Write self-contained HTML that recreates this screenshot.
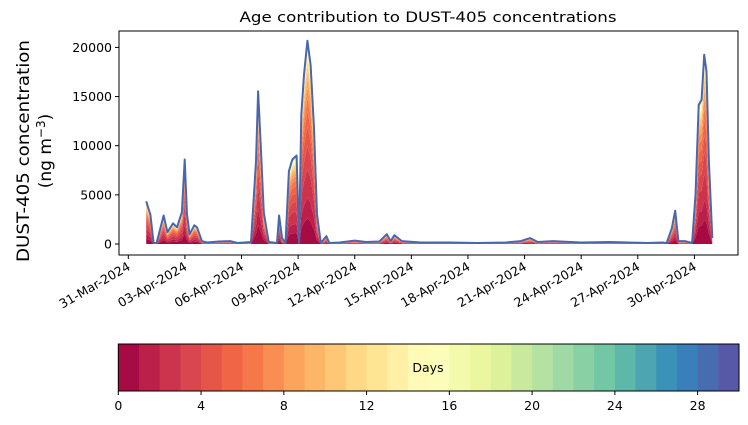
<!DOCTYPE html>
<html><head><meta charset="utf-8"><style>
body{margin:0;background:#fff;}
svg{display:block;font-family:"DejaVu Sans","Liberation Sans",sans-serif;}
</style></head><body>
<svg id="chart" width="748" height="425" viewBox="0 0 748 425" xmlns="http://www.w3.org/2000/svg">
<rect width="748" height="425" fill="#fff"/>
<text x="428" y="22" font-size="14" text-anchor="middle" fill="#000" textLength="377" lengthAdjust="spacingAndGlyphs">Age contribution to DUST-405 concentrations</text>
<g font-size="17" fill="#000" text-anchor="middle">
<text transform="translate(29,151) rotate(-90)" textLength="222" lengthAdjust="spacingAndGlyphs">DUST-405 concentration</text>
<text transform="translate(51,151) rotate(-90)">(ng m<tspan dy="-6" font-size="12">−3</tspan><tspan dy="6">)</tspan></text>
</g>
<g id="plot"></g>
<g id="cbar"></g>
</svg>
<script>
// day offsets from 31-Mar-2024 00:00
const days = [0.95,1.17,1.34,1.5,1.87,2.08,2.37,2.58,2.84,2.99,3.11,3.25,3.5,3.64,3.9,4.17,4.8,5.4,5.8,6.5,6.77,6.88,7.0,7.18,7.44,7.88,7.99,8.15,8.33,8.51,8.69,8.92,9.05,9.17,9.31,9.49,9.66,9.84,10.0,10.2,10.5,10.65,11.2,12.0,12.6,13.3,13.7,13.9,14.1,14.5,15.5,17,18.5,20,20.8,21.3,21.7,22.5,24,25.5,26.5,27.5,28.3,28.53,28.8,28.98,29.15,29.5,29.88,30.06,30.23,30.38,30.52,30.64,30.77,30.95];
const totals = [4340,2980,100,100,2900,1200,2100,1700,3250,8600,3000,1000,1900,1700,300,150,250,300,100,200,8400,15530,10780,3200,200,100,2900,600,100,7400,8600,9000,100,13150,17200,20680,18230,11800,3000,100,800,100,150,350,200,250,1000,300,900,300,150,150,100,150,300,600,200,300,150,200,150,100,150,100,1600,3390,300,300,100,5000,14170,14680,19260,17560,8400,600];
const yTicks = [0,5000,10000,15000,20000];
const xTickLabels = ["31-Mar-2024","03-Apr-2024","06-Apr-2024","09-Apr-2024","12-Apr-2024","15-Apr-2024","18-Apr-2024","21-Apr-2024","24-Apr-2024","27-Apr-2024","30-Apr-2024"];
const xTickDays = [0,3,6,9,12,15,18,21,24,27,30];
const cbarTicks = [0,4,8,12,16,20,24,28];

const NS="http://www.w3.org/2000/svg";
const L=119,R=738,T=31,B=255;
const xs=d=>128.3+d*18.87;
const ys=v=>244-v*0.00983;
function mk(t,a,p){const e=document.createElementNS(NS,t);for(const k in a)e.setAttribute(k,a[k]);p.appendChild(e);return e;}
const stops=[[0,[158,1,66]],[.1,[213,62,79]],[.2,[244,109,67]],[.3,[253,174,97]],[.4,[254,224,139]],[.5,[255,255,191]],[.6,[230,245,152]],[.7,[171,221,164]],[.8,[102,194,165]],[.9,[50,136,189]],[1,[94,79,162]]];
function spec(t){for(let i=1;i<stops.length;i++){if(t<=stops[i][0]){const a=stops[i-1],b=stops[i],f=(t-a[0])/(b[0]-a[0]);return 'rgb('+a[1].map((c,j)=>Math.round(c+(b[1][j]-c)*f)).join(',')+')';}}return 'rgb(94,79,162)';}
const plot=document.getElementById('plot');
mk('rect',{x:L,y:T,width:R-L,height:B-T,fill:'#fff'},plot);
// stacked age layers
const N=30;let w=[];for(let i=0;i<N;i++)w.push(Math.exp(-i/5)*(i<2?0.6:1));const ws=w.reduce((a,b)=>a+b,0);w=w.map(v=>v/ws);
let cum=totals.map(()=>0);
for(let i=0;i<N;i++){
  const lo=cum.slice();cum=cum.map((c,k)=>c+totals[k]*w[i]);
  let d='M'+days.map((x,k)=>xs(x).toFixed(1)+','+ys(cum[k]).toFixed(1)).join('L');
  for(let k=days.length-1;k>=0;k--)d+='L'+xs(days[k]).toFixed(1)+','+ys(lo[k]).toFixed(1);
  const p=mk('path',{d:d+'Z',fill:spec((i+0.5)/N),stroke:'none'},plot);
  
  
}
const line=mk('path',{d:'M'+days.map((x,k)=>xs(x).toFixed(1)+','+ys(totals[k]).toFixed(1)).join('L'),fill:'none',stroke:'#4a66ad','stroke-width':2,'stroke-linejoin':'round'},plot);


const frame=mk('rect',{x:L,y:T,width:R-L,height:B-T,fill:'none',stroke:'#000','stroke-width':1},plot);


yTicks.forEach(v=>{
  mk('line',{x1:L-4,x2:L,y1:ys(v),y2:ys(v),stroke:'#000'},plot);
  const t=mk('text',{x:L-7,y:ys(v)+4.5,'font-size':12.5,'text-anchor':'end'},plot);t.textContent=v;
  
  
});
xTickDays.forEach((d,i)=>{
  const x=xs(d);
  mk('line',{x1:x,x2:x,y1:B,y2:B+4,stroke:'#000'},plot);
  const t=mk('text',{x:0,y:0,'font-size':12.5,'text-anchor':'end',transform:'translate('+(x+3)+','+(B+14)+') rotate(-30)'},plot);
  t.textContent=xTickLabels[i];
  
  
});
// colorbar
const cb=document.getElementById('cbar');
const CL=118.3,CR=739,CT=344,CB=391;const cx=v=>CL+v*(CR-CL)/30;
for(let i=0;i<30;i++){
  const r=mk('rect',{x:cx(i),y:CT,width:(CR-CL)/30+0.5,height:CB-CT,fill:spec((i+0.5)/30)},cb);
  
  
}
const cf=mk('rect',{x:CL,y:CT,width:CR-CL,height:CB-CT,fill:'none',stroke:'#000'},cb);


const cl=mk('text',{x:428,y:372,'font-size':12.5,'text-anchor':'middle'},cb);cl.textContent='Days';


cbarTicks.forEach(v=>{
  mk('line',{x1:cx(v),x2:cx(v),y1:CB,y2:CB+4,stroke:'#000'},cb);
  const t=mk('text',{x:cx(v),y:CB+19,'font-size':12.5,'text-anchor':'middle'},cb);t.textContent=v;
  
  
});
</script>
</body></html>
